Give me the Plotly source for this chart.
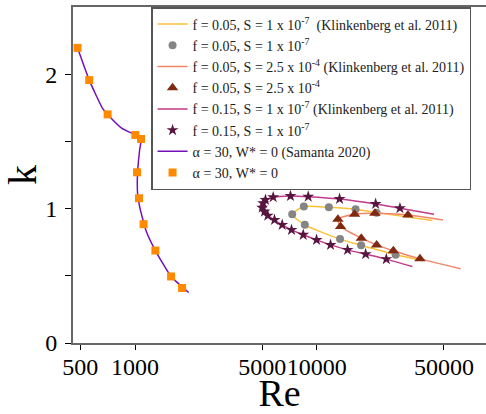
import plotly.graph_objects as go

# --- data ---
# f = 0.05, S = 1e-7 (Klinkenberg line)
kl1_re = [43180, 21310, 16330, 11640, 8478, 7318, 8586, 13410, 17510, 27110, 35800]
kl1_k = [0.911, 0.970, 0.996, 1.010, 1.015, 0.958, 0.879, 0.773, 0.727, 0.656, 0.622]
# f = 0.05, S = 1e-7 (points)
p1_re = [21310, 16330, 11640, 8478, 7318, 8586, 13410, 17510, 27110]
p1_k = [0.970, 0.996, 1.010, 1.015, 0.958, 0.879, 0.773, 0.727, 0.656]
# f = 0.05, S = 2.5e-4 (Klinkenberg line)
kl2_re = [49380, 31680, 20850, 16120, 13050, 13500, 17550, 21310, 26330, 36880, 61790]
kl2_k = [0.916, 0.953, 0.966, 0.958, 0.921, 0.866, 0.780, 0.730, 0.686, 0.626, 0.552]
# f = 0.05, S = 2.5e-4 (points)
p2_re = [31680, 20850, 16120, 13050, 13500, 17550, 21310, 26330, 36880]
p2_k = [0.953, 0.966, 0.958, 0.921, 0.866, 0.780, 0.730, 0.686, 0.626]
# f = 0.15, S = 1e-7 (Klinkenberg line)
kl3_re = [44060, 28630, 21040, 13330, 8964, 7161, 5752, 5217, 4950, 4880, 5000, 5372, 5848,
          6449, 7254, 8414, 9958, 11890, 14750, 18540, 24090, 33500]
kl3_k = [0.958, 1.003, 1.035, 1.072, 1.089, 1.094, 1.085, 1.065, 1.040, 1.007, 0.975, 0.948,
         0.916, 0.879, 0.842, 0.805, 0.767, 0.730, 0.693, 0.661, 0.624, 0.569]
# f = 0.15, S = 1e-7 (points)
p3_re = [28630, 21040, 13330, 8964, 7161, 5752, 5217, 5067, 5004, 5151, 5372, 5848, 6449,
         7254, 8414, 9958, 11890, 14750, 18540, 24090]
p3_k = [1.003, 1.035, 1.072, 1.089, 1.094, 1.085, 1.065, 1.040, 1.007, 0.978, 0.948, 0.916,
        0.879, 0.842, 0.805, 0.767, 0.730, 0.693, 0.661, 0.624]
# alpha = 30, W* = 0 (Samanta 2020 line)
sam_re = [483, 560, 663, 707, 848, 1004, 1079, 1060, 1033, 1033, 1060, 1154, 1294, 1579, 1974]
sam_k = [2.196, 1.956, 1.746, 1.701, 1.597, 1.548, 1.518, 1.436, 1.270, 1.114, 1.015, 0.829,
         0.688, 0.495, 0.376]
# alpha = 30, W* = 0 (points)
p4_re = [483, 560, 707, 1004, 1079, 1026, 1052, 1115, 1294, 1579, 1815]
p4_k = [2.196, 1.956, 1.701, 1.548, 1.518, 1.270, 1.077, 0.884, 0.688, 0.495, 0.409]

x_ticks = [500, 1000, 5000, 10000, 50000]
x_ticktext = ["500", "1000", "5000", "10000", "50000"]
y_ticks = [0, 0.5, 1, 1.5, 2]
y_ticktext = ["0", "", "1", "", "2"]

names = [
    "f = 0.05, S = 1 x 10<sup>-7</sup>  (Klinkenberg et al. 2011)",
    "f = 0.05, S = 1 x 10<sup>-7</sup>",
    "f = 0.05, S = 2.5 x 10<sup>-4</sup> (Klinkenberg et al. 2011)",
    "f = 0.05, S = 2.5 x 10<sup>-4</sup>",
    "f = 0.15, S = 1 x 10<sup>-7</sup> (Klinkenberg et al. 2011)",
    "f = 0.15, S = 1 x 10<sup>-7</sup>",
    "α = 30, W* = 0 (Samanta 2020)",
    "α = 30, W* = 0",
]

SERIF = "Liberation Serif, Times New Roman, serif"

fig = go.Figure()
fig.add_trace(go.Scatter(x=kl1_re, y=kl1_k, mode="lines", name=names[0],
                         line=dict(color="#f8c237", width=1.5, shape="spline", smoothing=0.6)))
fig.add_trace(go.Scatter(x=p1_re, y=p1_k, mode="markers", name=names[1],
                         marker=dict(symbol="circle", size=8, color="#858585")))
fig.add_trace(go.Scatter(x=kl2_re, y=kl2_k, mode="lines", name=names[2],
                         line=dict(color="#f3866a", width=1.5, shape="spline", smoothing=0.6)))
fig.add_trace(go.Scatter(x=p2_re, y=p2_k, mode="markers", name=names[3],
                         marker=dict(symbol="triangle-up", size=10, color="#7f2a10")))
fig.add_trace(go.Scatter(x=kl3_re, y=kl3_k, mode="lines", name=names[4],
                         line=dict(color="#c23a8a", width=1.5, shape="spline", smoothing=0.6)))
fig.add_trace(go.Scatter(x=p3_re, y=p3_k, mode="markers", name=names[5],
                         marker=dict(symbol="star", size=9, color="#57163f")))
fig.add_trace(go.Scatter(x=sam_re, y=sam_k, mode="lines", name=names[6],
                         line=dict(color="#7411b8", width=1.5, shape="spline", smoothing=0.5)))
fig.add_trace(go.Scatter(x=p4_re, y=p4_k, mode="markers", name=names[7],
                         marker=dict(symbol="square", size=8, color="#ff8a00")))

fig.update_layout(
    width=486, height=414,
    margin=dict(l=73, r=0, t=7, b=71, autoexpand=False),
    paper_bgcolor="white", plot_bgcolor="white",
    font=dict(family=SERIF, color="black"),
    showlegend=True,
    legend=dict(x=0.189, y=1.0, xanchor="left", yanchor="top",
                bgcolor="white", bordercolor="#555555", borderwidth=1.5,
                font=dict(family=SERIF, size=14, color="#222222"),
                tracegroupgap=0, itemwidth=30),
    xaxis=dict(type="log", range=[2.659, 4.93],
               tickvals=x_ticks, ticktext=x_ticktext, tickangle=0, automargin=False,
               ticks="outside", ticklen=5, tickcolor="black", tickwidth=1,
               ticklabelstandoff=-4,
               showline=True, linecolor="#666666", linewidth=2, mirror=True,
               showgrid=False, zeroline=False,
               tickfont=dict(family=SERIF, size=24, color="black"),
               title=dict(text="Re", font=dict(family=SERIF, size=38, color="black"), standoff=8)),
    yaxis=dict(range=[0, 2.5], automargin=False,
               tickvals=y_ticks, ticktext=y_ticktext,
               ticks="outside", ticklen=6, tickcolor="black", tickwidth=1,
               ticklabelstandoff=3,
               showline=True, linecolor="#666666", linewidth=2, mirror=True,
               showgrid=False, zeroline=False,
               tickfont=dict(family=SERIF, size=24, color="black"),
               title=dict(text="k", font=dict(family=SERIF, size=40, color="black"), standoff=2)),
)

fig.write_html("out.html")
